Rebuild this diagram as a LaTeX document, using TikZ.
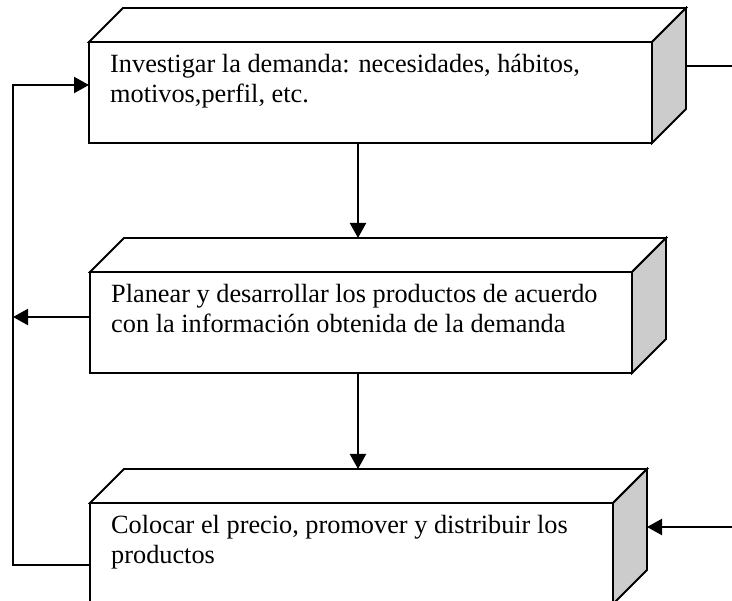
\documentclass[tikz,border=0pt]{standalone}
\usepackage{fontspec}
\setmainfont{Liberation Serif}
\usetikzlibrary{arrows.meta}

\tikzset{
  frente/.style={draw, line width=1.8pt, fill=white, minimum height=101pt,
    inner sep=0pt, outer sep=0pt, anchor=north west},
  cara/.style={draw, line width=1.8pt},
  texto/.style={font=\fontsize{26.3}{30.5}\selectfont, align=left, inner sep=0pt,
    anchor=base west},
  flecha/.style={line width=2.2pt, -{Triangle[length=15pt,width=16pt]}},
  linea/.style={line width=2.2pt},
}

\NewDocumentCommand{\cajatres}{mmmmm}{%
\node[frente, minimum width=#4pt] (#1) at (#2,#3) {};
\draw[cara, fill=white] (#1.north west) -- ++(34,-34) -- ++(#4,0) -- (#1.north east) -- cycle;
\draw[cara, fill=black!20] (#1.north east) -- ++(34,-34) -- ++(0,101) -- (#1.south east) -- cycle;
\node[texto] (#1t) at ([shift={(21pt,-61pt)}]#1.north west) {#5};
}

\begin{document}
\begin{tikzpicture}[x=1pt,y=-1pt]
        \clip (0,0) rectangle (732,601);

        % cajas
        \cajatres{inv}{89}{42}{563}{Investigar la demanda: necesidades, hábitos,\\motivos,perfil, etc.}
        \cajatres{pla}{90}{272}{542}{Planear y desarrollar los productos de acuerdo\\con la información obtenida de la demanda}
        \cajatres{col}{90}{503}{523}{Colocar el precio, promover y distribuir los\\productos}

        % puntos sueltos
        \coordinate (eje) at (358,0);
        \coordinate (izq) at (13,85);
        \coordinate (der1) at (732,66);
        \coordinate (der3) at (732,527);

        % hacia abajo
        \draw[flecha] (inv.south -| eje) -- ([yshift=34pt]pla.north -| eje);
        \draw[flecha] (pla.south -| eje) -- ([yshift=34pt]col.north -| eje);

        % lazo izquierdo
        \draw[flecha] ([yshift=-11.5pt]col.west) -| (izq) -- (izq -| inv.west);
        \draw[flecha] ([yshift=5.5pt]pla.west) -- ([yshift=5.5pt]pla.west -| izq);

        % derecha
        \draw[linea] ([xshift=34pt]inv.east |- der1) -- (der1);
        \draw[flecha] (der3) -- ([xshift=34pt]col.east |- der3);
    \end{tikzpicture}
\end{document}
